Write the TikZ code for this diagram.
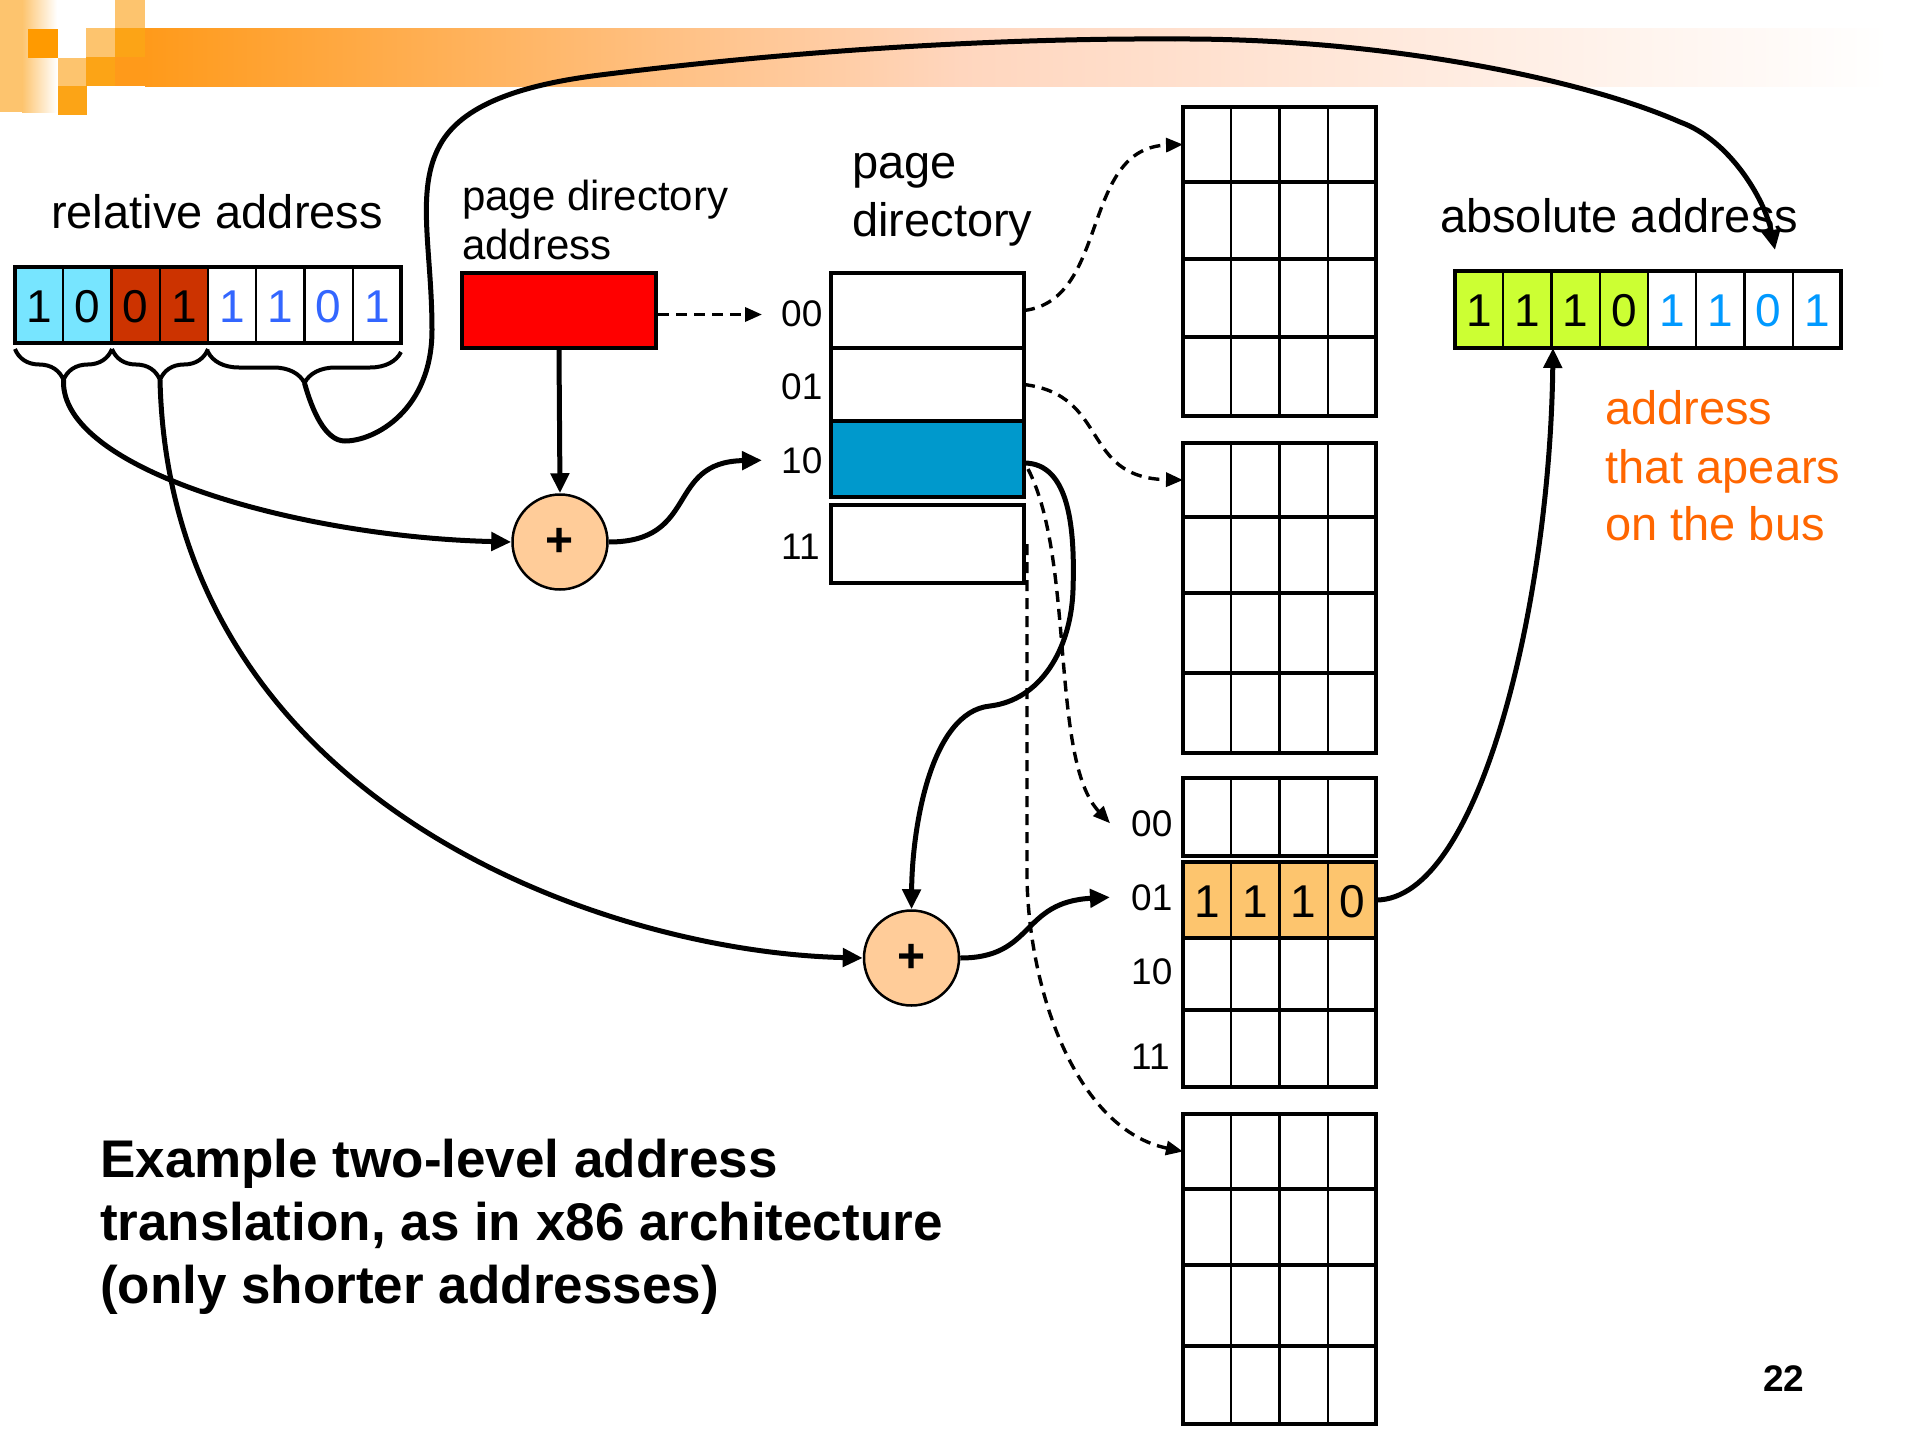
\documentclass[tikz,border=0pt]{standalone}
\usepackage{fontspec}
\setmainfont{Liberation Sans}
\usetikzlibrary{arrows.meta,decorations.pathreplacing}
\definecolor{cyanbit}{HTML}{77E5FF}
\definecolor{rustbit}{HTML}{CC3300}
\definecolor{bluedigit}{HTML}{3366FF}
\definecolor{skydigit}{HTML}{0099FF}
\definecolor{limebit}{HTML}{CCFF33}
\definecolor{pdblue}{HTML}{0099CC}
\definecolor{peach}{HTML}{FFCC99}
\definecolor{entry}{HTML}{FDC56E}
\definecolor{busorange}{HTML}{FF6600}
\definecolor{sqlight}{HTML}{FDC46E}
\definecolor{sqmid}{HTML}{FCA416}
\definecolor{sqdark}{HTML}{FF9A00}
\definecolor{barstart}{HTML}{FF9A1A}
\definecolor{barmid}{HTML}{FFD6BE}
\newcommand{\ptrow}[4]{%
  \node[rowbox, fill=#4, minimum height={#3-#2}] (#1) at (1279.5,{(#2+#3)/2}) {};
  \foreach \gx in {1231.25,1279.5,1327.75} {\draw[gridline] (\gx,#2) -- (\gx,#3);}
}
\begin{document}
\begin{tikzpicture}[x=1pt,y=-1pt,
  rowbox/.style={draw, line width=4pt, inner sep=0pt, outer sep=0pt, minimum width=193pt},
  gridline/.style={line width=2.3pt},
  solidarrow/.style={line width=5pt, -{Triangle[length=20pt,width=18pt]}},
  dasharrow/.style={line width=3.4pt, dash pattern=on 11pt off 7pt, -{Triangle[length=17pt,width=14pt]}},
  adder/.style={circle, draw, line width=2.5pt, fill=peach, minimum size=95pt, inner sep=0pt, font=\fontsize{48}{48}\selectfont\bfseries},
  lbl/.style={inner sep=0pt, anchor=base west, font=\fontsize{47}{56}\selectfont},
  smalllbl/.style={inner sep=0pt, anchor=base west, font=\fontsize{42}{50}\selectfont},
  rowlbl/.style={inner sep=0pt, anchor=base west, font=\fontsize{37}{44}\selectfont},
  digit/.style={inner sep=0pt, anchor=base, font=\fontsize{46}{46}\selectfont},
  titlelbl/.style={inner sep=0pt, anchor=base west, font=\fontsize{53}{63}\selectfont\bfseries},
  bracestyle/.style={line width=4pt, decorate, decoration={brace, mirror, amplitude=31pt}},
]
\useasboundingbox (0,0) rectangle (1920,1440);
\fill[white] (0,0) rectangle (1920,1440);

% ---- slide decoration ----
\fill[sqlight] (0,0) rectangle (22,112);
\shade[left color=sqlight, right color=white] (22,0) rectangle (57,112);
\fill[sqdark] (28,29) rectangle (58,58);
\fill[sqlight] (58,58) rectangle (87,86);
\fill[sqmid] (58,86) rectangle (87,115);
\fill[sqlight] (86,28) rectangle (115,57);
\fill[sqmid] (86,57) rectangle (115,86);
\fill[sqlight] (115,0) rectangle (145,28);
\fill[sqmid] (115,28) rectangle (145,57);
\fill[barstart] (115,57) rectangle (145,86);
\shade[left color=barstart, right color=barmid] (145,28) rectangle (961,86);
\shade[left color=barmid, right color=white] (960,28) rectangle (1890,86);

% ---- relative address ----
\fill[cyanbit] (15,267) rectangle (111.5,343);
\fill[rustbit] (111.5,267) rectangle (208,343);
\foreach \gx in {63.25,111.5,159.75,208,256.25,304.5,352.75} {\draw[gridline] (\gx,267) -- (\gx,343);}
\node[draw, line width=4pt, inner sep=0pt, minimum width=386pt, minimum height=76pt] (rel) at (208,305) {};
\node[digit] (r1) at (39.1,322) {1};
\node[digit] (r2) at (87.4,322) {0};
\node[digit] (r3) at (135.6,322) {0};
\node[digit] (r4) at (183.9,322) {1};
\node[digit, text=bluedigit] (r5) at (232.1,322) {1};
\node[digit, text=bluedigit] (r6) at (280.4,322) {1};
\node[digit, text=bluedigit] (r7) at (328.6,322) {0};
\node[digit, text=bluedigit] (r8) at (376.9,322) {1};
\node[lbl] (relT) at (51,228) {relative address};

% braces
\draw[bracestyle] (15,349) -- (112,349);
\draw[bracestyle] (112,349) -- (208,349);
\draw[bracestyle] (208,352) -- (401,352);
\coordinate (b1) at (63.5,380);
\coordinate (b2) at (160,380);
\coordinate (b3) at (304.5,383);

% ---- page directory address ----
\node[draw, line width=4pt, fill=red, inner sep=0pt, minimum width=194pt, minimum height=75pt] (pda) at (559,310.5) {};
\node[smalllbl] (pdaT1) at (462,210) {page directory};
\node[smalllbl] (pdaT2) at (462,259) {address};

% ---- page directory ----
\node[lbl] (pdT1) at (852,178) {page};
\node[lbl] (pdT2) at (852,236) {directory};
\node[rowbox, fill=white, minimum height=75pt] (pd00) at (927.5,310.5) {};
\node[rowbox, fill=white, minimum height=73pt] (pd01) at (927.5,384.5) {};
\node[rowbox, fill=pdblue, minimum height=76pt] (pd10) at (927.5,459) {};
\node[rowbox, fill=white, minimum height=78pt] (pd11) at (927.5,544) {};
\node[rowlbl] (pl00) at (781,326) {00};
\node[rowlbl] (pl01) at (781,399) {01};
\node[rowlbl] (pl10) at (781,473) {10};
\node[rowlbl] (pl11) at (781,559) {11};

% ---- page tables ----
\ptrow{ta1}{107}{182}{white}
\ptrow{ta2}{182}{259}{white}
\ptrow{ta3}{259}{337}{white}
\ptrow{ta4}{337}{416}{white}
\ptrow{tb1}{443}{517}{white}
\ptrow{tb2}{517}{593}{white}
\ptrow{tb3}{593}{673}{white}
\ptrow{tb4}{673}{753}{white}
\ptrow{tc1}{778}{856}{white}
\ptrow{tc2}{862}{938}{entry}
\ptrow{tc3}{938}{1010}{white}
\ptrow{tc4}{1010}{1087}{white}
\ptrow{td1}{1114}{1189}{white}
\ptrow{td2}{1189}{1265}{white}
\ptrow{td3}{1265}{1346}{white}
\ptrow{td4}{1346}{1424}{white}
\node[digit] (e1) at (1207.1,917) {1};
\node[digit] (e2) at (1255.4,917) {1};
\node[digit] (e3) at (1303.6,917) {1};
\node[digit] (e4) at (1351.9,917) {0};
\node[rowlbl] (cl00) at (1131,836) {00};
\node[rowlbl] (cl01) at (1131,910) {01};
\node[rowlbl] (cl10) at (1131,984) {10};
\node[rowlbl] (cl11) at (1131,1069) {11};

% ---- absolute address ----
\fill[limebit] (1455,271) rectangle (1648,348);
\foreach \gx in {1503.25,1551.5,1599.75,1648,1696.25,1744.5,1792.75} {\draw[gridline] (\gx,271) -- (\gx,348);}
\node[draw, line width=4pt, inner sep=0pt, minimum width=386pt, minimum height=77pt] (abs) at (1648,309.5) {};
\node[digit] (a1) at (1479.1,326) {1};
\node[digit] (a2) at (1527.4,326) {1};
\node[digit] (a3) at (1575.6,326) {1};
\node[digit] (a4) at (1623.9,326) {0};
\node[digit, text=skydigit] (a5) at (1672.1,326) {1};
\node[digit, text=skydigit] (a6) at (1720.4,326) {1};
\node[digit, text=skydigit] (a7) at (1768.6,326) {0};
\node[digit, text=skydigit] (a8) at (1816.9,326) {1};
\node[lbl] (absT) at (1440,232) {absolute address};
\node[lbl, text=busorange] (bus1) at (1605,424) {address};
\node[lbl, text=busorange] (bus2) at (1605,483) {that apears};
\node[lbl, text=busorange] (bus3) at (1605,540) {on the bus};

% ---- adders ----
\node[adder] (c1) at (560,542) {+};
\node[adder] (c2) at (911.5,958) {+};

% ---- title and page number ----
\node[titlelbl] (t1) at (100,1177) {Example two-level address};
\node[titlelbl] (t2) at (100,1240) {translation, as in x86 architecture};
\node[titlelbl] (t3) at (100,1303) {(only shorter addresses)};
\node[inner sep=0pt, anchor=base west, font=\fontsize{37}{37}\selectfont\bfseries] (pg) at (1763,1391) {22};

% ---- connectors ----
\coordinate (abstop) at (1775,250);
\coordinate (pdin00) at ([xshift=-19pt]pl00.west);
\coordinate (pdin10) at ([xshift=-19pt]pl10.west);
\coordinate (tcin00) at ([xshift=-21pt]cl00.west);
\coordinate (tcin01) at ([xshift=-21pt]cl01.west);
\coordinate (absin) at (1553,348);

\draw[dasharrow] ([yshift=-4pt]pda.east) -- ([yshift=-4pt]pda.east -| pdin00);
\draw[solidarrow] (pda.south) -- (c1.north);
\draw[solidarrow] (b1) .. controls (60,470) and (300,537) .. (c1.west);
\draw[solidarrow] (c1.east) .. controls (700,542) and (665,462) .. (pdin10);
\draw[solidarrow] (b2) .. controls (170,800) and (600,952) .. (c2.west);

\draw[dasharrow] (pd00.east) .. controls (1110,300) and (1080,148) .. (ta1.west);
\draw[dasharrow] (pd01.east) .. controls (1110,395) and (1080,478) .. (tb1.west);
\draw[dasharrow] ([shift={(4pt,-10pt)}]pd10.east) .. controls (1075,560) and (1050,760) .. (tcin00);
\draw[dasharrow] ([xshift=3pt]pd11.east) -- (1027,880) .. controls (1030,1000) and (1080,1130) .. (td1.west);

\draw[solidarrow] ([yshift=-4pt]pd10.east) .. controls (1070,463) and (1075,530) .. (1073,590)
  .. controls (1071,650) and (1040,700) .. (990,706)
  .. controls (930,712) and (912,830) .. (c2.north);
\draw[solidarrow] (c2.east) .. controls (1035,958) and (1020,902) .. (tcin01);
\draw[solidarrow] (tc2.east) .. controls (1480,900) and (1550,600) .. (absin);

\draw[solidarrow] (b3) .. controls (312,410) and (325,441) .. (345,441)
  .. controls (375,441) and (432,410) .. (432,330)
  .. controls (432,250) and (415,190) .. (440,145)
  .. controls (462,105) and (520,85) .. (600,75)
  .. controls (800,50) and (1000,38) .. (1175,39)
  .. controls (1380,38) and (1580,78) .. (1680,122)
  .. controls (1730,140) and (1765,200) .. (abstop);
\end{tikzpicture}
\end{document}
